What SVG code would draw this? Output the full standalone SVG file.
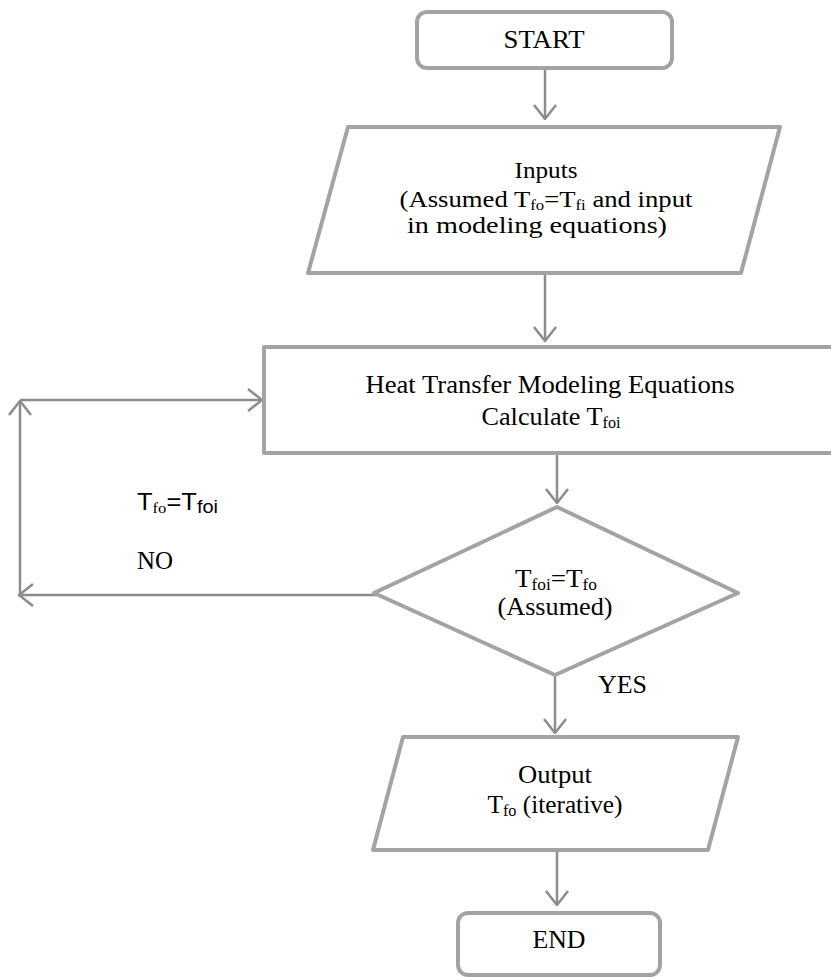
<svg xmlns="http://www.w3.org/2000/svg" width="831" height="980" viewBox="0 0 831 980">
<style>
.node{fill:#ffffff;stroke:#a3a3a3;stroke-width:4;stroke-linejoin:round}
.conn{fill:none;stroke:#8c8c8c;stroke-width:2.5}
.t{font-family:"Liberation Serif","Times New Roman",serif;fill:#000000;text-anchor:middle}
.l{font-family:"Liberation Serif","Times New Roman",serif;fill:#000000}
.s{font-family:"Liberation Sans",Arial,sans-serif;fill:#000000}
</style>
<defs>
<marker id="arr" markerUnits="userSpaceOnUse" viewBox="0 0 16 24" refX="15" refY="12" markerWidth="16" markerHeight="24" orient="auto">
<path d="M1,1 L15,12 L1,23" fill="none" stroke="#8c8c8c" stroke-width="2.5"/>
</marker>
</defs>
<g id="connectors">
<path class="conn" d="M545,68 L545,119" marker-end="url(#arr)"/>
<path class="conn" d="M545,273 L545,341" marker-end="url(#arr)"/>
<path class="conn" d="M557,453 L557,503" marker-end="url(#arr)"/>
<path class="conn" d="M555,675 L555,733" marker-end="url(#arr)"/>
<path class="conn" d="M557,850 L557,905" marker-end="url(#arr)"/>
<path class="conn" d="M376,595 L19,595" marker-end="url(#arr)"/>
<path class="conn" d="M20,595 L20,401" marker-end="url(#arr)"/>
<path class="conn" d="M20,400 L262,400" marker-end="url(#arr)"/>
</g>
<g id="start">
<rect class="node" x="417" y="12" width="255" height="56" rx="10"/>
<text class="t" x="544" y="48" font-size="26" textLength="81" lengthAdjust="spacingAndGlyphs">START</text>
</g>
<g id="inputs">
<polygon class="node" points="348,127 780,127 741,273 308,273"/>
<text class="t" x="546" y="178" font-size="24" textLength="63" lengthAdjust="spacingAndGlyphs">Inputs</text>
<text class="t" x="546" y="207" font-size="24" textLength="293" lengthAdjust="spacingAndGlyphs">(Assumed T<tspan font-size="15" dy="3">fo</tspan><tspan dy="-3">=T</tspan><tspan font-size="15" dy="3">fi</tspan><tspan dy="-3"> and input</tspan></text>
<text class="t" x="537" y="233" font-size="24" textLength="260" lengthAdjust="spacingAndGlyphs">in modeling equations)</text>
</g>
<g id="heat">
<rect class="node" x="264" y="347" width="600" height="106"/>
<text class="t" x="550" y="393" font-size="26" textLength="369" lengthAdjust="spacingAndGlyphs">Heat Transfer Modeling Equations</text>
<text class="t" x="551" y="425" font-size="26" textLength="139" lengthAdjust="spacingAndGlyphs">Calculate T<tspan font-size="16" dy="3">foi</tspan></text>
</g>
<g id="decision">
<polygon class="node" points="557,507 738,593 555,675 374,593"/>
<text class="t" x="556" y="587" font-size="25" textLength="82" lengthAdjust="spacingAndGlyphs">T<tspan font-size="16" dy="3">foi</tspan><tspan dy="-3">=T</tspan><tspan font-size="16" dy="3">fo</tspan></text>
<text class="t" x="555" y="615" font-size="25" textLength="115" lengthAdjust="spacingAndGlyphs">(Assumed)</text>
</g>
<g id="output">
<polygon class="node" points="403,737 738,737 708,850 373,850"/>
<text class="t" x="555" y="783" font-size="25" textLength="74" lengthAdjust="spacingAndGlyphs">Output</text>
<text class="t" x="555" y="813" font-size="25" textLength="135" lengthAdjust="spacingAndGlyphs">T<tspan font-size="16" dy="3">fo</tspan><tspan dy="-3"> (iterative)</tspan></text>
</g>
<g id="end">
<rect class="node" x="458" y="913" width="202" height="62" rx="10"/>
<text class="t" x="559" y="948" font-size="26" textLength="53" lengthAdjust="spacingAndGlyphs">END</text>
</g>
<g id="labels">
<text class="s" x="137" y="510" font-size="23" textLength="81" lengthAdjust="spacingAndGlyphs">T<tspan class="l" font-size="15" dy="3">fo</tspan><tspan dy="-3">=T</tspan><tspan font-size="18" dy="3">foi</tspan></text>
<text class="l" x="137" y="569" font-size="25" textLength="36" lengthAdjust="spacingAndGlyphs">NO</text>
<text class="l" x="598" y="693" font-size="25" textLength="49" lengthAdjust="spacingAndGlyphs">YES</text>
</g>
</svg>
